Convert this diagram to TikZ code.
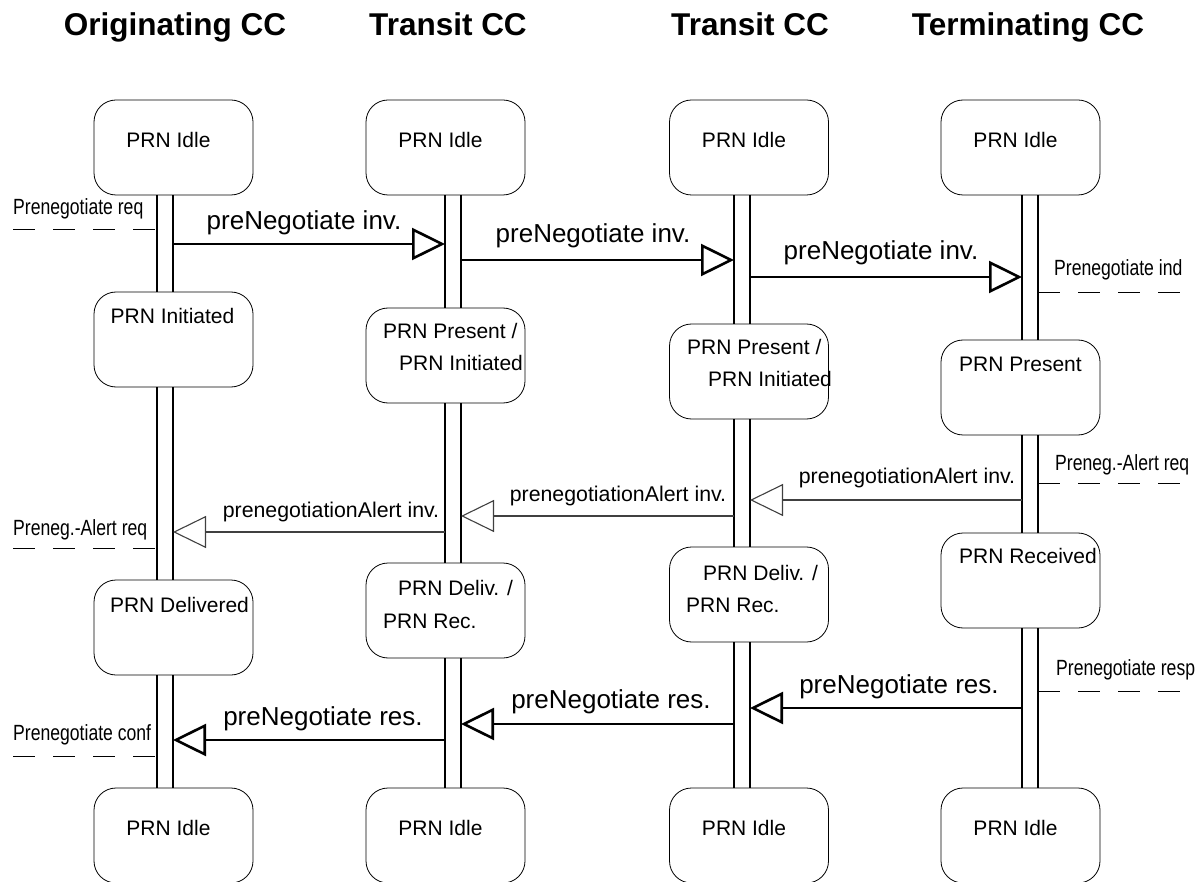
\documentclass[tikz,border=0pt]{standalone}
\usepackage{fontspec}
\setmainfont{Liberation Sans}
\newfontfamily\narrowfont[FakeStretch=0.8]{Liberation Sans}
\usetikzlibrary{arrows.meta}

\begin{document}
\begin{tikzpicture}[x=1pt, y=-1pt,
        state/.style={draw, rounded corners=22pt, minimum width=159pt, minimum height=95pt, inner sep=0pt, line width=0.8pt},
        stt/.style={font=\fontsize{21}{25}\selectfont, inner sep=0pt, anchor=base},
        sttl/.style={stt, anchor=base west},
        head/.style={font=\fontsize{31.5}{36}\selectfont\bfseries, inner sep=0pt, anchor=base},
        side/.style={font=\narrowfont\fontsize{22}{26}\selectfont, inner sep=0pt, anchor=base west},
        mlbl/.style={font=\fontsize{26}{30}\selectfont, inner sep=0pt, anchor=base},
        albl/.style={font=\fontsize{21.3}{25}\selectfont, inner sep=0pt, anchor=base},
        lane/.style={line width=2pt},
        msg/.style={line width=2.6pt, -{Triangle[open, length=33pt, width=32pt]}},
        alert/.style={line width=1.1pt, draw=black!75, -{Triangle[open, length=33pt, width=32pt]}},
        prim/.style={line width=0.8pt, dash pattern=on 22pt off 18pt}]
        \useasboundingbox (0,0) rectangle (1202,882);
        % headers
        \node[head] (hOrg) at (175,36) {Originating CC};
        \node[head] (hTra) at (448,36) {Transit CC};
        \node[head] (hTrb) at (750,36) {Transit CC};
        \node[head] (hTer) at (1028,36) {Terminating CC};
        % states
        \node[state] (org1) at (173.5,147.5) {};
        \node[state] (tra1) at (445.5,147.5) {};
        \node[state] (trb1) at (749,147.5) {};
        \node[state] (ter1) at (1020.5,147.5) {};
        \node[state] (org2) at (173.5,339.5) {};
        \node[state] (tra2) at (445.5,355.5) {};
        \node[state] (trb2) at (749,371.5) {};
        \node[state] (ter2) at (1020.5,387.5) {};
        \node[state] (org3) at (173.5,627.5) {};
        \node[state] (tra3) at (445.5,610.5) {};
        \node[state] (trb3) at (749,594.5) {};
        \node[state] (ter3) at (1020.5,580.5) {};
        \node[state] (org4) at (173.5,835.5) {};
        \node[state] (tra4) at (445.5,835.5) {};
        \node[state] (trb4) at (749,835.5) {};
        \node[state] (ter4) at (1020.5,835.5) {};
        % state texts
        \node[stt] (org1t) at (168.5,148) {PRN Idle};
        \node[stt] (tra1t) at (440.5,148) {PRN Idle};
        \node[stt] (trb1t) at (744,148) {PRN Idle};
        \node[stt] (ter1t) at (1015.5,148) {PRN Idle};
        \node[stt] (org2t) at (172.5,324) {PRN Initiated};
        \node[sttl] (tra2t) at (383,339) {PRN Present /};
        \node[sttl] (tra2u) at (399,371) {PRN Initiated};
        \node[sttl] (trb2t) at (687,355) {PRN Present /};
        \node[sttl] (trb2u) at (708,387) {PRN Initiated};
        \node[stt] (ter2t) at (1020.5,372) {PRN Present};
        \node[stt] (org3t) at (179.5,612) {PRN Delivered};
        \node[sttl] (tra3t) at (398,595) {PRN Deliv. /};
        \node[sttl] (tra3u) at (383,628) {PRN Rec.};
        \node[sttl] (trb3t) at (703,580) {PRN Deliv. /};
        \node[sttl] (trb3u) at (686,612) {PRN Rec.};
        \node[stt] (ter3t) at (1028,563) {PRN Received};
        \node[stt] (org4t) at (168.5,835) {PRN Idle};
        \node[stt] (tra4t) at (440.5,835) {PRN Idle};
        \node[stt] (trb4t) at (744,835) {PRN Idle};
        \node[stt] (ter4t) at (1015.5,835) {PRN Idle};
        % lanes
        \coordinate (orgL) at (157,0);
        \coordinate (orgR) at (173,0);
        \coordinate (traL) at (445,0);
        \coordinate (traR) at (461,0);
        \coordinate (trbL) at (734,0);
        \coordinate (trbR) at (750,0);
        \coordinate (terL) at (1022,0);
        \coordinate (terR) at (1038,0);
        \draw[lane] (org1.south -| orgL) -- (org2.north -| orgL) (org1.south -| orgR) -- (org2.north -| orgR);
        \draw[lane] (org2.south -| orgL) -- (org3.north -| orgL) (org2.south -| orgR) -- (org3.north -| orgR);
        \draw[lane] (org3.south -| orgL) -- (org4.north -| orgL) (org3.south -| orgR) -- (org4.north -| orgR);
        \draw[lane] (tra1.south -| traL) -- (tra2.north -| traL) (tra1.south -| traR) -- (tra2.north -| traR);
        \draw[lane] (tra2.south -| traL) -- (tra3.north -| traL) (tra2.south -| traR) -- (tra3.north -| traR);
        \draw[lane] (tra3.south -| traL) -- (tra4.north -| traL) (tra3.south -| traR) -- (tra4.north -| traR);
        \draw[lane] (trb1.south -| trbL) -- (trb2.north -| trbL) (trb1.south -| trbR) -- (trb2.north -| trbR);
        \draw[lane] (trb2.south -| trbL) -- (trb3.north -| trbL) (trb2.south -| trbR) -- (trb3.north -| trbR);
        \draw[lane] (trb3.south -| trbL) -- (trb4.north -| trbL) (trb3.south -| trbR) -- (trb4.north -| trbR);
        \draw[lane] (ter1.south -| terL) -- (ter2.north -| terL) (ter1.south -| terR) -- (ter2.north -| terR);
        \draw[lane] (ter2.south -| terL) -- (ter3.north -| terL) (ter2.south -| terR) -- (ter3.north -| terR);
        \draw[lane] (ter3.south -| terL) -- (ter4.north -| terL) (ter3.south -| terR) -- (ter4.north -| terR);
        % messages
        \coordinate (inv1) at (0,244);
        \coordinate (inv2) at (0,260);
        \coordinate (inv3) at (0,277);
        \coordinate (alt1) at (0,500);
        \coordinate (alt2) at (0,516);
        \coordinate (alt3) at (0,532);
        \coordinate (res1) at (0,708);
        \coordinate (res2) at (0,724);
        \coordinate (res3) at (0,740);
        \draw[msg] (orgR |- inv1) -- (traL |- inv1);
        \draw[msg] (traR |- inv2) -- (trbL |- inv2);
        \draw[msg] (trbR |- inv3) -- (terL |- inv3);
        \draw[alert] (terL |- alt1) -- (trbR |- alt1);
        \draw[alert] (trbL |- alt2) -- (traR |- alt2);
        \draw[alert] (traL |- alt3) -- (orgR |- alt3);
        \draw[msg] (terL |- res1) -- (trbR |- res1);
        \draw[msg] (trbL |- res2) -- (traR |- res2);
        \draw[msg] (traL |- res3) -- (orgR |- res3);
        \node[mlbl] (inv1t) at (304,230) {preNegotiate inv.};
        \node[mlbl] (inv2t) at (593,243) {preNegotiate inv.};
        \node[mlbl] (inv3t) at (881,260) {preNegotiate inv.};
        \node[albl] (alt1t) at (907,483) {prenegotiationAlert inv.};
        \node[albl] (alt2t) at (618,501) {prenegotiationAlert inv.};
        \node[albl] (alt3t) at (331,517) {prenegotiationAlert inv.};
        \node[mlbl] (res1t) at (899,693) {preNegotiate res.};
        \node[mlbl] (res2t) at (611,708) {preNegotiate res.};
        \node[mlbl] (res3t) at (323,725) {preNegotiate res.};
        % primitives
        \coordinate (req) at (13,229);
        \coordinate (ind) at (1182,292);
        \coordinate (areq) at (1187,483);
        \coordinate (breq) at (13,548);
        \coordinate (resp) at (1192,691);
        \coordinate (conf) at (13,756);
        \draw[prim] (req) -- (orgL |- req);
        \draw[prim] (terR |- ind) -- (ind);
        \draw[prim] (terR |- areq) -- (areq);
        \draw[prim] (breq) -- (orgL |- breq);
        \draw[prim] (terR |- resp) -- (resp);
        \draw[prim] (conf) -- (orgL |- conf);
        \node[side] (reqt) at (13,215) {Prenegotiate req};
        \node[side] (indt) at (1054,276) {Prenegotiate ind};
        \node[side] (areqt) at (1055,470) {Preneg.-Alert req};
        \node[side] (breqt) at (13,535) {Preneg.-Alert req};
        \node[side] (respt) at (1056,675) {Prenegotiate resp};
        \node[side] (conft) at (13,740) {Prenegotiate conf};
    \end{tikzpicture}
\end{document}
